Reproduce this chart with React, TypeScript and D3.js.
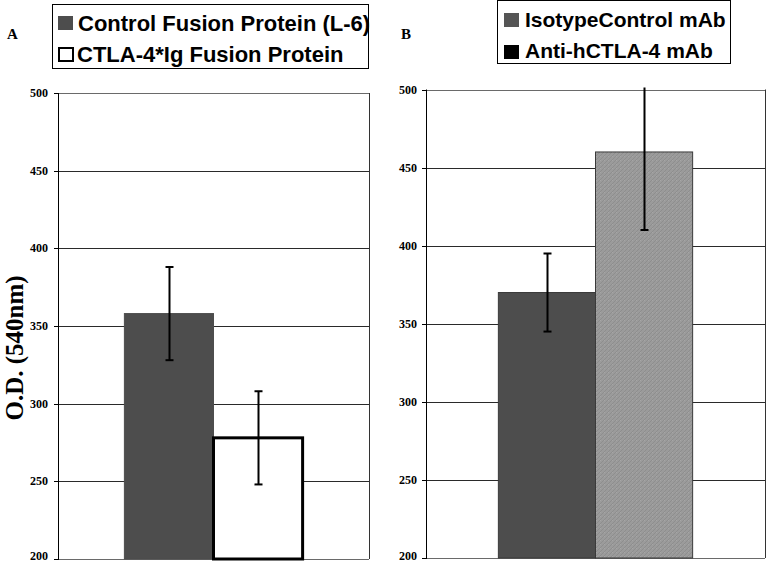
import React from "react";
import * as d3 from "d3";

const panelALabels = ["Control Fusion Protein (L-6)", "CTLA-4*Ig Fusion Protein"];
const panelAValues = [358, 278];
const panelAErrors = [30, 30];

const panelBLabels = ["IsotypeControl mAb", "Anti-hCTLA-4 mAb"];
const panelBValues = [370, 460];
const panelBErrors = [25, 50];

const yTicks = [200, 250, 300, 350, 400, 450, 500];
const yLabel = "O.D. (540nm)";

const W = 767;
const H = 564;

type PanelProps = {
  id: string;
  letter: string;
  letterX: number;
  x0: number;
  x1: number;
  yTop: number;
  yBottom: number;
  labels: string[];
  values: number[];
  errors: number[];
  fills: string[];
  strokes: string[];
  strokeWidths: number[];
  tickLabelX: number;
};

function Panel(p: PanelProps) {
  const y = d3.scaleLinear().domain([200, 500]).range([p.yBottom, p.yTop]);
  const x = d3
    .scaleBand<string>()
    .domain(p.labels)
    .range([p.x0, p.x1])
    .paddingInner(0)
    .paddingOuter(0.745);
  const bw = x.bandwidth();
  return (
    <g>
      <defs>
        <clipPath id={`clip-${p.id}`}>
          <rect x={p.x0 - 5} y={p.yTop - 2} width={p.x1 - p.x0 + 10} height={p.yBottom - p.yTop + 4} />
        </clipPath>
      </defs>
      {yTicks.map((t) => (
        <line
          key={t}
          x1={p.x0}
          x2={p.x1}
          y1={Math.round(y(t)) + 0.5}
          y2={Math.round(y(t)) + 0.5}
          stroke={t === 500 || t === 200 ? "#6a6a6a" : "#2a2a2a"}
          strokeWidth={1}
        />
      ))}
      <line x1={p.x1 + 0.5} x2={p.x1 + 0.5} y1={y(500)} y2={y(200)} stroke="#333" strokeWidth={1} />
      {p.labels.map((l, i) => (
        <rect
          key={l}
          x={x(l)!}
          y={y(p.values[i])}
          width={bw}
          height={y(200) - y(p.values[i])}
          fill={p.fills[i]}
          stroke={p.strokes[i]}
          strokeWidth={p.strokeWidths[i]}
        />
      ))}
      <g clipPath={`url(#clip-${p.id})`}>
        {p.labels.map((l, i) => {
          const cx = Math.round(x(l)! + bw / 2) + 0.5;
          const hi = y(p.values[i] + p.errors[i]);
          const lo = y(p.values[i] - p.errors[i]);
          return (
            <g key={l} stroke="#000" strokeWidth={2}>
              <line x1={cx} x2={cx} y1={hi} y2={lo} />
              <line x1={cx - 4} x2={cx + 4} y1={hi} y2={hi} />
              <line x1={cx - 4} x2={cx + 4} y1={lo} y2={lo} />
            </g>
          );
        })}
      </g>
      <line x1={p.x0 + 0.5} x2={p.x0 + 0.5} y1={y(500)} y2={y(200) + 1} stroke="#000" strokeWidth={1} />
      {yTicks.map((t) => (
        <g key={t}>
          <line
            x1={p.x0 - 4}
            x2={p.x0}
            y1={Math.round(y(t)) + 0.5}
            y2={Math.round(y(t)) + 0.5}
            stroke="#000"
          />
          <text
            x={p.tickLabelX}
            y={Math.min(y(t), 556)}
            textAnchor="end"
            dominantBaseline="central"
            fontFamily="'Liberation Serif', 'Times New Roman', serif"
            fontWeight="bold"
            fontSize={12}
            fill="#000"
          >
            {t}
          </text>
        </g>
      ))}
      <text
        x={p.letterX}
        y={39}
        fontFamily="'Liberation Serif', 'Times New Roman', serif"
        fontWeight="bold"
        fontSize={15}
        fill="#000"
      >
        {p.letter}
      </text>
    </g>
  );
}

export default function App() {
  return (
    <svg
      width={W}
      height={H}
      style={{ position: "fixed", left: 0, top: 0, background: "#fff" }}
      xmlns="http://www.w3.org/2000/svg"
    >
      <defs>
        <pattern id="dots" width="4" height="4" patternUnits="userSpaceOnUse">
          <rect width="4" height="4" fill="#9b9b9b" />
          <path d="M0 4 L4 0" stroke="#8e8e8e" strokeWidth={1} />
          <rect x="0" y="0" width="1" height="1" fill="#a6a6a6" />
        </pattern>
      </defs>
      <rect width={W} height={H} fill="#fff" />
      <Panel
        id="a"
        letter="A"
        letterX={7}
        x0={58}
        x1={369}
        yTop={93}
        yBottom={559}
        labels={panelALabels}
        values={panelAValues}
        errors={panelAErrors}
        fills={["#4d4d4d", "#ffffff"]}
        strokes={["#4d4d4d", "#000"]}
        strokeWidths={[1, 3]}
        tickLabelX={48}
      />
      <Panel
        id="b"
        letter="B"
        letterX={401}
        x0={426}
        x1={765}
        yTop={89.5}
        yBottom={558}
        labels={panelBLabels}
        values={panelBValues}
        errors={panelBErrors}
        fills={["#4d4d4d", "url(#dots)"]}
        strokes={["#3a3a3a", "#3a3a3a"]}
        strokeWidths={[1, 1]}
        tickLabelX={417}
      />
      <text
        transform="translate(23,348) rotate(-90)"
        textAnchor="middle"
        fontFamily="'Liberation Serif', 'Times New Roman', serif"
        fontWeight="bold"
        fontSize={25}
        fill="#000"
      >
        {yLabel}
      </text>
      <g fontFamily="'Liberation Sans', Arial, sans-serif" fontWeight="bold" fontSize={22} fill="#000">
        <rect x={52.5} y={4.5} width={316} height={64} fill="#fff" stroke="#000" strokeWidth={1} />
        <rect x={58} y={16} width={15} height={14} fill="#4d4d4d" />
        <text x={78} y={31}>{panelALabels[0]}</text>
        <rect x={59} y={48} width={14} height={13} fill="#fff" stroke="#000" strokeWidth={2} />
        <text x={77} y={62}>{panelALabels[1]}</text>
      </g>
      <g fontFamily="'Liberation Sans', Arial, sans-serif" fontWeight="bold" fontSize={21} fill="#000">
        <rect x={497.5} y={0.5} width={233} height={63} fill="#fff" stroke="#000" strokeWidth={1} />
        <rect x={504} y={13} width={15} height={14} fill="#555" />
        <text x={525} y={27}>{panelBLabels[0]}</text>
        <rect x={504} y={45} width={15} height={14} fill="#000" />
        <text x={525} y={58}>{panelBLabels[1]}</text>
      </g>
    </svg>
  );
}
